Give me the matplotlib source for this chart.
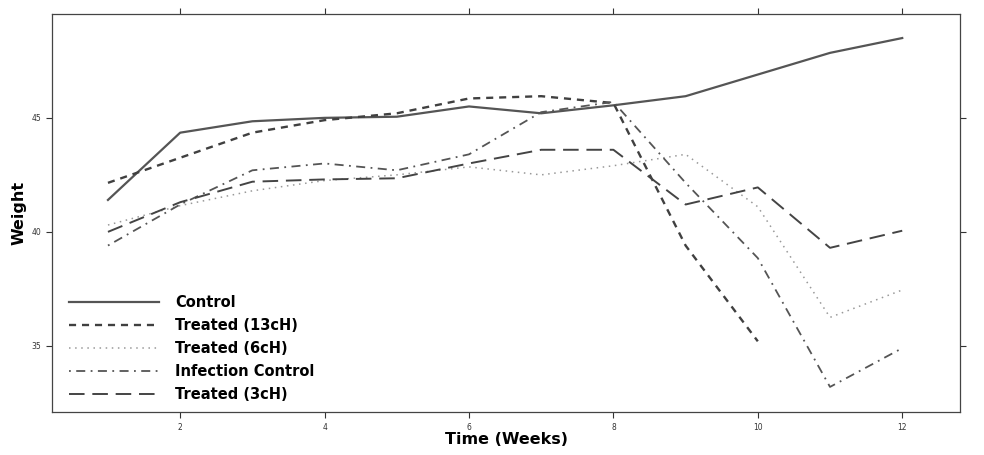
import matplotlib.pyplot as plt

weeks = [1, 2, 3, 4, 5, 6, 7, 8, 9, 10, 11, 12]

control = [41.4, 44.35, 44.85, 45.0, 45.05, 45.5, 45.2, 45.55, 45.95, 46.9, 47.85, 48.5]
treated_13ch = [42.15, 43.25, 44.35, 44.9, 45.2, 45.85, 45.95, 45.65, 39.4, 35.2]
treated_6ch = [40.3, 41.15, 41.8, 42.25, 42.5, 42.85, 42.5, 42.9, 43.4, 41.1, 36.25, 37.45]
infection_control = [39.4, 41.2, 42.7, 43.0, 42.7, 43.4, 45.25, 45.7, 42.15, 38.85, 33.2, 34.9]
treated_3ch = [40.0, 41.3, 42.2, 42.3, 42.35, 43.0, 43.6, 43.6, 41.2, 41.95, 39.3, 40.05]

fig = plt.figure(figsize=(9.84, 4.55), dpi=100)
ax = fig.add_axes([0.053, 0.0945, 0.9226, 0.8745])

ax.plot(weeks, control, color="#555555", lw=1.6, label="Control")
ax.plot(weeks[:len(treated_13ch)], treated_13ch, color="#404040", lw=1.7,
        dashes=(3, 2.5), label="Treated (13cH)")
ax.plot(weeks, treated_6ch, color="#999999", lw=1.1, dashes=(1, 3),
        label="Treated (6cH)")
ax.plot(weeks, infection_control, color="#555555", lw=1.3,
        dashes=(1, 3, 5, 3), label="Infection Control")
ax.plot(weeks, treated_3ch, color="#444444", lw=1.4, dashes=(8, 4),
        label="Treated (3cH)")

# lattice-like frame: outward ticks on every side, labels only bottom/left
ax.set_xlim(0.227, 12.8)
ax.set_ylim(32.1, 49.55)
ax.set_xticks([2, 4, 6, 8, 10, 12])
ax.set_yticks([35, 40, 45])
ax.tick_params(direction="out", length=4, width=0.8, labelsize=5.5,
               top=True, right=True, labeltop=False, labelright=False,
               colors="#333333", pad=4)
for sp in ax.spines.values():
    sp.set_color("#444444")
    sp.set_linewidth(0.9)

ax.set_xlabel("Time (Weeks)", fontsize=11.5, fontweight="bold", labelpad=0)
ax.set_ylabel("Weight", fontsize=11.5, fontweight="bold")
ax.yaxis.set_label_coords(-0.028, 0.5)

leg = ax.legend(loc="lower left", bbox_to_anchor=(0.012, 0.01), frameon=False,
                fontsize=10.5, handlelength=6.2, handletextpad=1.1,
                labelspacing=0.55, borderaxespad=0)
for t in leg.get_texts():
    t.set_fontweight("bold")

fig.savefig("out.png", dpi=100)
